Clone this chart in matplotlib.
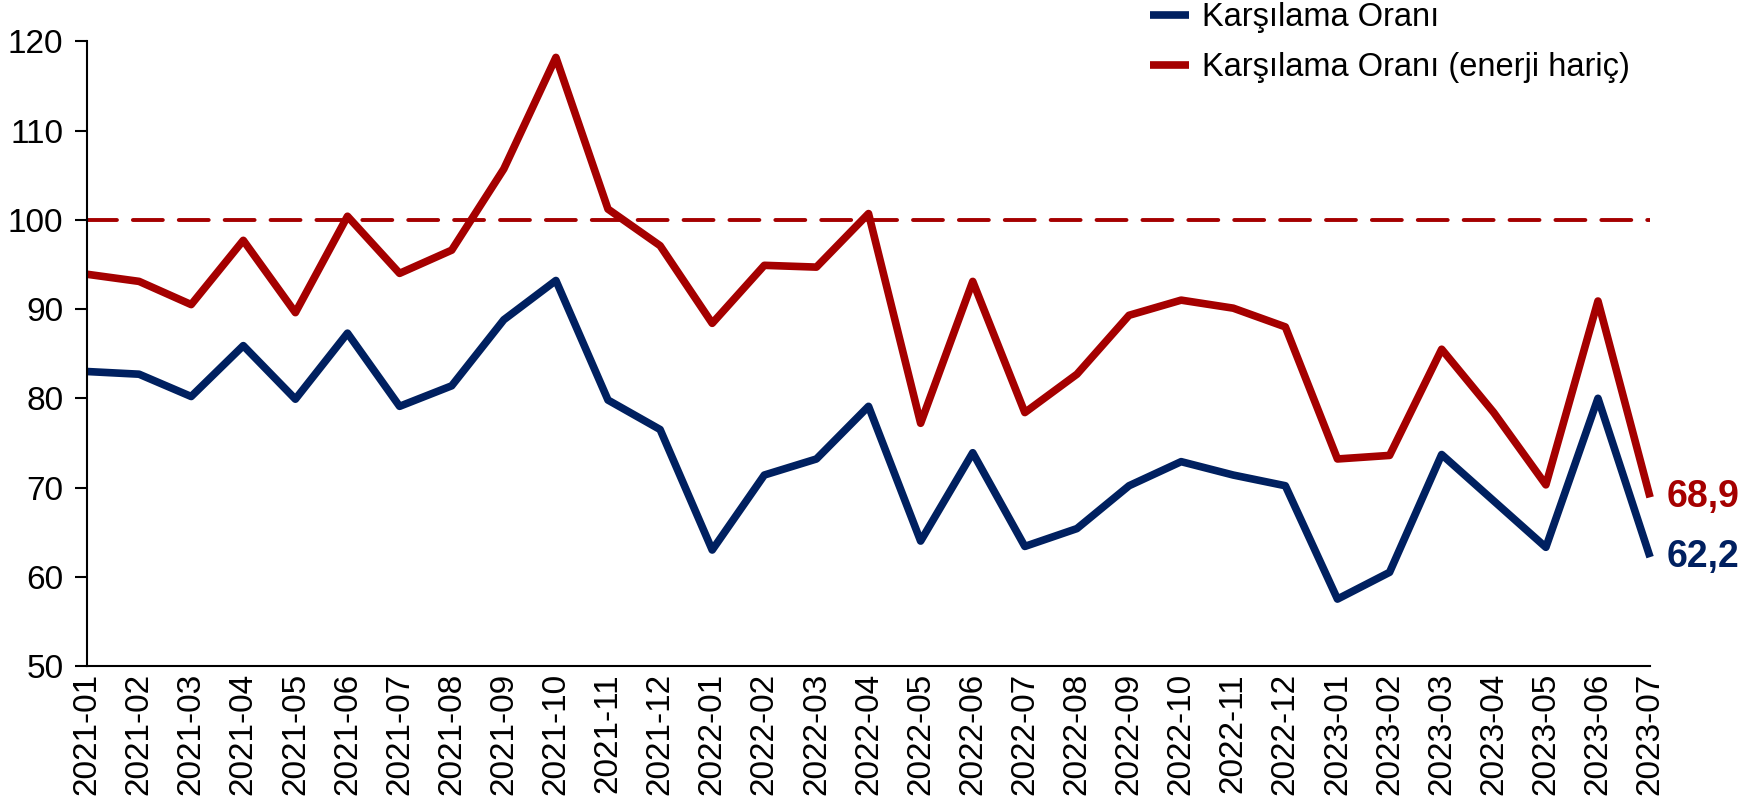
import matplotlib
matplotlib.use("Agg")
import matplotlib.pyplot as plt

plt.rcParams['font.family'] = ['Liberation Sans', 'DejaVu Sans']

months = ["2021-01", "2021-02", "2021-03", "2021-04", "2021-05", "2021-06",
          "2021-07", "2021-08", "2021-09", "2021-10", "2021-11", "2021-12",
          "2022-01", "2022-02", "2022-03", "2022-04", "2022-05", "2022-06",
          "2022-07", "2022-08", "2022-09", "2022-10", "2022-11", "2022-12",
          "2023-01", "2023-02", "2023-03", "2023-04", "2023-05", "2023-06",
          "2023-07"]
karsilama = [83.0, 82.7, 80.2, 85.9, 79.9, 87.3, 79.1, 81.4, 88.8, 93.2, 79.8, 76.5,
             63.0, 71.4, 73.2, 79.1, 64.0, 73.9, 63.4, 65.4, 70.2, 72.9, 71.4, 70.2,
             57.5, 60.5, 73.7, 68.5, 63.3, 80.0, 62.2]
karsilama_enerji_haric = [93.9, 93.1, 90.5, 97.7, 89.6, 100.4, 94.0, 96.6, 105.7, 118.2, 101.2, 97.1,
                          88.4, 94.9, 94.7, 100.7, 77.2, 93.1, 78.4, 82.7, 89.3, 91.0, 90.1, 88.0,
                          73.2, 73.6, 85.5, 78.4, 70.3, 90.9, 68.9]
esik = 100
yticks = [50, 60, 70, 80, 90, 100, 110, 120]

blue = "#002060"
red = "#A50000"

fig = plt.figure(figsize=(17.5, 7.98), dpi=100)
ax = fig.add_axes([0.0497, 0.1654, 0.8932, 0.7828])

x = list(range(len(months)))
ax.plot(x, karsilama, color=blue, lw=5.5, label="Karşılama Oranı", clip_on=False,
        solid_joinstyle="round", solid_capstyle="butt")
ax.plot(x, karsilama_enerji_haric, color=red, lw=5.5, label="Karşılama Oranı (enerji hariç)",
        clip_on=False, solid_joinstyle="round", solid_capstyle="butt")
ax.plot([x[0], x[-1]], [esik, esik], color=red, lw=2.8, dashes=(7.7, 4.1),
        dash_capstyle="round")

ax.set_xlim(0, len(months) - 1)
ax.set_ylim(50, 120)
ax.set_yticks(yticks)
ax.set_xticks(x)
ax.set_xticklabels(months, rotation=90)
ax.tick_params(axis="y", labelsize=24, length=9, width=1.5, direction="out", pad=8)
ax.tick_params(axis="x", labelsize=24, length=0, pad=5)
for s in ["top", "right"]:
    ax.spines[s].set_visible(False)
for s in ["left", "bottom"]:
    ax.spines[s].set_linewidth(1.5)

ax.annotate(f"{karsilama_enerji_haric[-1]:.1f}".replace(".", ","),
            (x[-1], karsilama_enerji_haric[-1]), xytext=(12, 0), textcoords="offset points",
            color=red, fontsize=27, fontweight="bold", va="center", ha="left",
            annotation_clip=False)
ax.annotate(f"{karsilama[-1]:.1f}".replace(".", ","),
            (x[-1], karsilama[-1]), xytext=(12, 0), textcoords="offset points",
            color=blue, fontsize=27, fontweight="bold", va="center", ha="left",
            annotation_clip=False)

fig.legend(loc="upper left", bbox_to_anchor=(0.657, 0.997), frameon=False, fontsize=23.5,
           handlelength=1.2, handletextpad=0.4, labelspacing=0.57, borderpad=0,
           borderaxespad=0)

fig.savefig("out.png", dpi=100)
